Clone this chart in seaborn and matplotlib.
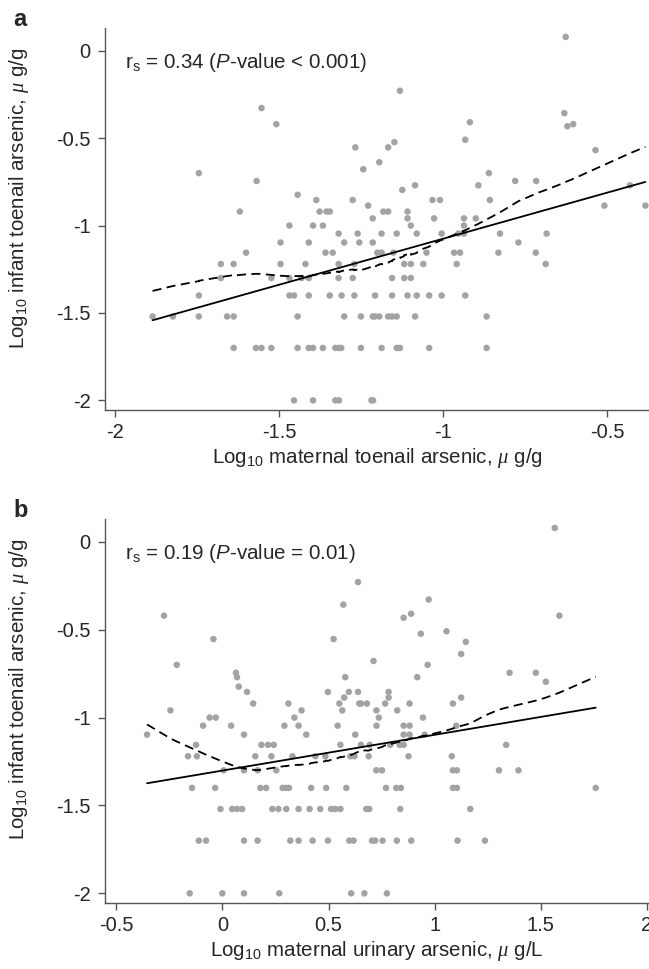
import numpy as np
import pandas as pd
import matplotlib
matplotlib.use("Agg")
import matplotlib.pyplot as plt
import seaborn as sns

# Panel a: log10 maternal toenail arsenic (x) vs log10 infant toenail arsenic (y)
mat_toenail = [
    -1.885, -1.823, -1.744, -1.744, -1.744, -1.677, -1.677, -1.658, -1.638, -1.638,
    -1.638, -1.619, -1.600, -1.568, -1.553, -1.570, -1.553, -1.523, -1.523, -1.508,
    -1.495, -1.495, -1.468, -1.468, -1.468, -1.454, -1.443, -1.443, -1.443, -1.454,
    -1.431, -1.409, -1.409, -1.409, -1.409, -1.396, -1.419, -1.396, -1.396, -1.386,
    -1.376, -1.366, -1.358, -1.355, -1.345, -1.336, -1.366, -1.345, -1.328, -1.317,
    -1.310, -1.328, -1.317, -1.318, -1.318, -1.318, -1.309, -1.301, -1.301, -1.275,
    -1.275, -1.267, -1.270, -1.260, -1.270, -1.255, -1.250, -1.250, -1.243, -1.228,
    -1.214, -1.214, -1.207, -1.214, -1.207, -1.194, -1.218, -1.213, -1.194, -1.200,
    -1.187, -1.187, -1.187, -1.182, -1.167, -1.167, -1.148, -1.155, -1.155, -1.167,
    -1.155, -1.141, -1.141, -1.131, -1.141, -1.151, -1.131, -1.124, -1.118, -1.098,
    -1.118, -1.098, -1.108, -1.108, -1.098, -1.080, -1.108, -1.080, -1.085, -1.085,
    -1.060, -1.050, -1.042, -1.042, -1.032, -1.009, -1.027, -1.004, -1.004, -0.966,
    -0.948, -0.958, -0.953, -0.936, -0.936, -0.936, -0.932, -0.918, -0.932, -0.900,
    -0.892, -0.867, -0.867, -0.860, -0.857, -0.826, -0.831, -0.780, -0.770, -0.716,
    -0.717, -0.687, -0.684, -0.626, -0.630, -0.621, -0.603, -0.535, -0.508, -0.430,
    -0.383,
]
inf_toenail_a = [
    -1.52, -1.52, -0.70, -1.40, -1.52, -1.22, -1.30, -1.52, -1.52, -1.22,
    -1.70, -0.92, -1.155, -0.745, -0.328, -1.70, -1.70, -1.70, -1.30, -0.42,
    -1.097, -1.22, -1.0, -1.30, -1.40, -1.40, -0.824, -1.52, -1.70, -2.0,
    -1.30, -1.097, -1.30, -1.40, -1.70, -1.0, -1.22, -1.70, -2.0, -0.854,
    -0.92, -1.0, -1.155, -0.92, -0.92, -1.155, -1.70, -1.40, -1.70, -1.70,
    -1.70, -2.0, -2.0, -1.046, -1.22, -1.30, -1.40, -1.097, -1.52, -0.854,
    -1.30, -0.553, -1.40, -1.046, -1.22, -1.097, -1.52, -1.70, -0.678, -0.886,
    -0.959, -1.097, -1.40, -1.52, -1.52, -1.52, -2.0, -2.0, -0.638, -1.155,
    -1.155, -1.046, -1.70, -0.92, -0.92, -0.553, -0.523, -1.30, -1.40, -1.52,
    -1.52, -1.52, -1.70, -1.70, -1.046, -1.155, -0.229, -0.796, -1.22, -1.22,
    -1.30, -1.30, -0.92, -0.959, -1.0, -1.046, -1.40, -1.40, -0.77, -1.52,
    -1.22, -1.155, -1.40, -1.70, -0.854, -0.854, -0.959, -1.046, -1.40, -1.155,
    -1.155, -1.22, -1.046, -1.046, -0.959, -1.0, -0.509, -0.409, -1.40, -0.959,
    -0.77, -1.52, -1.70, -0.70, -0.854, -1.046, -1.155, -0.745, -1.097, -0.745,
    -1.155, -1.22, -1.046, 0.079, -0.357, -0.432, -0.42, -0.569, -0.886, -0.77,
    -0.886,
]

# Panel b: log10 maternal urinary arsenic (x) vs log10 infant toenail arsenic (y)
mat_urine = [
    -0.355, -0.275, -0.245, -0.215, -0.162, -0.143, -0.124, -0.120, -0.111, -0.077,
    -0.091, -0.060, -0.031, -0.042, -0.034, -0.009, -0.154, 0.000, 0.006, 0.041,
    0.046, 0.069, 0.093, 0.064, 0.069, 0.077, 0.116, 0.102, 0.102, 0.102,
    0.102, 0.145, 0.155, 0.166, 0.166, 0.184, 0.215, 0.242, 0.179, 0.206,
    0.231, 0.235, 0.264, 0.301, 0.254, 0.268, 0.284, 0.301, 0.314, 0.292,
    0.311, 0.339, 0.320, 0.359, 0.330, 0.359, 0.359, 0.373, 0.395, 0.418,
    0.411, 0.425, 0.438, 0.461, 0.485, 0.489, 0.497, 0.497, 0.512, 0.532,
    0.556, 0.524, 0.543, 0.551, 0.556, 0.565, 0.570, 0.574, 0.579, 0.584,
    0.596, 0.598, 0.618, 0.607, 0.603, 0.623, 0.626, 0.639, 0.639, 0.645,
    0.653, 0.681, 0.653, 0.694, 0.689, 0.669, 0.775, 0.712, 0.726, 0.737,
    0.726, 0.725, 0.752, 0.678, 0.692, 0.771, 0.705, 0.720, 0.755, 0.767,
    0.783, 0.783, 0.791, 0.819, 0.841, 0.822, 0.824, 0.838, 0.835, 0.854,
    0.854, 0.882, 0.854, 0.882, 0.854, 0.889, 0.877, 0.882, 0.890, 0.918,
    0.935, 0.945, 0.953, 0.967, 0.972, 1.056, 1.086, 1.081, 1.086, 1.105,
    1.086, 1.105, 1.108, 1.102, 1.125, 1.125, 1.147, 1.168, 1.237, 1.303,
    1.337, 1.353, 1.395, 1.477, 1.524, 1.566, 1.588, 1.759,
]
inf_toenail_b = [
    -1.097, -0.42, -0.959, -0.70, -1.22, -1.40, -1.155, -1.22, -1.70, -1.70,
    -1.046, -1.0, -1.0, -0.553, -1.40, -1.52, -2.0, -2.0, -1.30, -1.046,
    -1.52, -1.52, -1.52, -0.745, -0.77, -0.824, -0.854, -1.097, -1.30, -1.70,
    -2.0, -0.92, -1.22, -1.30, -1.70, -1.155, -1.155, -1.155, -1.40, -1.40,
    -1.22, -1.52, -1.52, -1.52, -1.30, -2.0, -1.40, -1.40, -1.40, -1.046,
    -0.92, -1.0, -1.70, -1.70, -1.22, -1.046, -1.52, -0.959, -1.097, -1.40,
    -1.52, -1.70, -1.22, -1.52, -1.22, -1.40, -0.854, -1.70, -1.52, -1.52,
    -1.52, -0.553, -1.046, -0.92, -1.155, -0.959, -0.357, -0.886, -0.77, -1.40,
    -0.854, -1.70, -1.70, -2.0, -1.22, -1.22, -1.097, -0.229, -0.854, -0.92,
    -0.92, -0.92, -1.155, -1.155, -1.22, -2.0, -2.0, -0.678, -0.959, -1.0,
    -1.046, -1.30, -1.30, -1.52, -1.52, -1.40, -1.70, -1.70, -1.70, -0.92,
    -0.854, -0.886, -1.155, -1.40, -1.40, -1.70, -0.959, -1.52, -1.155, -1.155,
    -1.097, -1.097, -1.046, -1.046, -0.432, -0.409, -1.22, -0.92, -1.70, -0.77,
    -0.523, -1.0, -1.097, -0.70, -0.328, -0.509, -0.92, -1.22, -1.30, -1.30,
    -1.40, -1.40, -1.70, -1.046, -0.638, -0.886, -0.569, -1.52, -1.70, -1.30,
    -1.155, -0.745, -1.30, -0.745, -0.796, 0.079, -0.42, -1.40,
]

yticks = [0, -0.5, -1, -1.5, -2]
ytick_labels = ['0', '-0.5', '-1', '-1.5', '-2']
xticks_a = [-2, -1.5, -1, -0.5]
xtick_labels_a = ['-2', '-1.5', '-1', '-0.5']
xticks_b = [-0.5, 0, 0.5, 1, 1.5, 2]
xtick_labels_b = ['-0.5', '0', '0.5', '1', '1.5', '2']


def stata_lowess(x, y, bwidth=0.8):
    # running-line smoother with tricube weights (like Stata's lowess default)
    x = np.asarray(x, float)
    y = np.asarray(y, float)
    order = np.argsort(x, kind='mergesort')
    xs, ys = x[order], y[order]
    n = len(xs)
    k = int(np.floor((n * bwidth - 0.5) / 2))
    fit = np.empty(n)
    for i in range(n):
        lo, hi = max(0, i - k), min(n - 1, i + k)
        xx, yy = xs[lo:hi + 1], ys[lo:hi + 1]
        delta = 1.0001 * max(xs[hi] - xs[i], xs[i] - xs[lo])
        w = (1 - (np.abs(xx - xs[i]) / delta) ** 3) ** 3
        xm = np.sum(w * xx) / np.sum(w)
        ym = np.sum(w * yy) / np.sum(w)
        sxx = np.sum(w * (xx - xm) ** 2)
        b = np.sum(w * (xx - xm) * (yy - ym)) / sxx if sxx > 0 else 0.0
        fit[i] = ym + b * (xs[i] - xm)
    return xs, fit


sns.set_style('ticks')
plt.rcParams['font.family'] = ['Liberation Sans', 'DejaVu Sans']
plt.rcParams['axes.unicode_minus'] = False
plt.rcParams['mathtext.fontset'] = 'custom'
plt.rcParams['mathtext.rm'] = 'Liberation Sans'
plt.rcParams['mathtext.it'] = 'Liberation Sans:italic'
plt.rcParams['mathtext.bf'] = 'Liberation Sans:bold'
plt.rcParams['mathtext.sf'] = 'Liberation Serif:italic'

fig = plt.figure(figsize=(6.49, 9.69), dpi=100)
ax_a = fig.add_axes([0.1618, 0.5769, 0.8382, 0.3942])
ax_b = fig.add_axes([0.1618, 0.0681, 0.8382, 0.3963])

panels = [
    (ax_a, mat_toenail, inf_toenail_a, xticks_a, xtick_labels_a, (-2.03, -0.372),
     r'Log$_{10}$ maternal toenail arsenic, $\mathsf{\mu}$ g/g',
     r'r$_\mathrm{s}$ = 0.34 ($P$-value < 0.001)', 'a'),
    (ax_b, mat_urine, inf_toenail_b, xticks_b, xtick_labels_b, (-0.553, 2.01),
     r'Log$_{10}$ maternal urinary arsenic, $\mathsf{\mu}$ g/L',
     r'r$_\mathrm{s}$ = 0.19 ($P$-value = 0.01)', 'b'),
]

for ax, xv, yv, xt, xtl, xlim, xlab, note, letter in panels:
    df = pd.DataFrame({'x': xv, 'y': yv})
    sns.scatterplot(data=df, x='x', y='y', ax=ax, color='#a3a3a3', s=22,
                    edgecolor='none', zorder=2)
    sns.regplot(data=df, x='x', y='y', ax=ax, scatter=False, ci=None,
                line_kws={'color': 'black', 'lw': 1.3, 'zorder': 3})
    xs, fit = stata_lowess(df['x'], df['y'])
    sns.lineplot(x=xs, y=fit, ax=ax, color='black', lw=1.3, estimator=None,
                 sort=False, zorder=3).lines[-1].set_dashes([5, 3])

    ax.set_xlim(*xlim)
    ax.set_ylim(-2.055, 0.13)
    ax.set_xticks(xt)
    ax.set_xticklabels(xtl)
    ax.set_yticks(yticks)
    ax.set_yticklabels(ytick_labels)
    ax.tick_params(labelsize=14.5, length=5, width=1, color='#555555')
    ax.tick_params(axis='x', pad=4.5)
    ax.tick_params(axis='y', pad=5.5)
    for side in ['left', 'bottom']:
        ax.spines[side].set_color('#555555')
        ax.spines[side].set_linewidth(1)
    sns.despine(ax=ax)

    ax.set_xlabel(xlab, fontsize=14.8)
    ax.set_ylabel(r'Log$_{10}$ infant toenail arsenic, $\mathsf{\mu}$ g/g',
                  fontsize=14.8)
    ax.xaxis.set_label_coords(0.5, -0.094)
    ax.yaxis.set_label_coords(-0.136, 0.555)
    ax.text(0.036, 0.91, note, transform=ax.transAxes, fontsize=14.8,
            va='center', ha='left')
    ax.text(-0.169, 1.006, letter, transform=ax.transAxes, fontsize=17,
            fontweight='bold', va='baseline', ha='left')

fig.savefig('out.png', dpi=100)
